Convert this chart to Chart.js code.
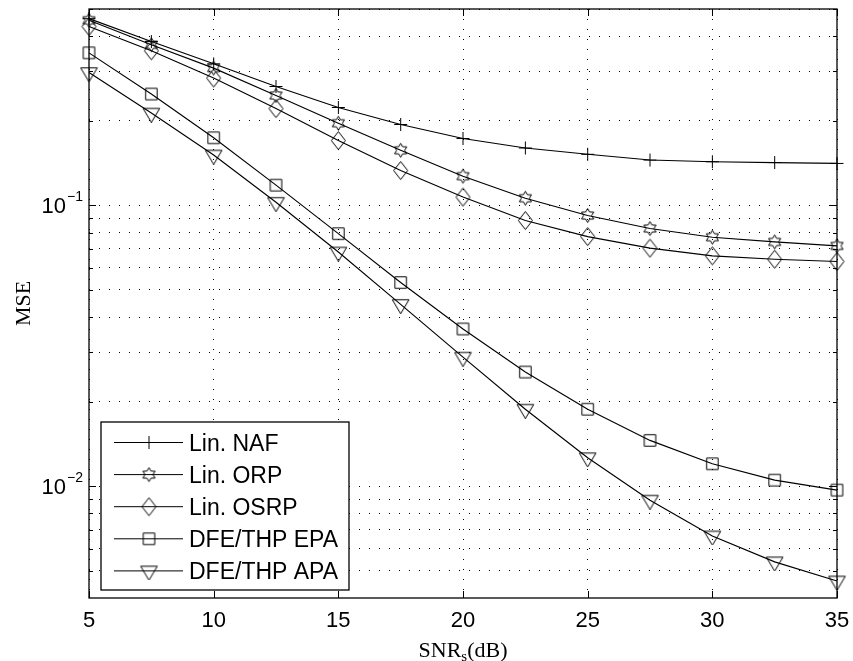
<!DOCTYPE html>
<html>
<head>
<meta charset="utf-8">
<script src="https://cdn.jsdelivr.net/npm/chart.js@4.4.1/dist/chart.umd.min.js"></script>
<style>
  html, body { margin: 0; padding: 0; background: #fff; }
  canvas { display: block; }
</style>
</head>
<body>
<canvas id="mse" width="853" height="661"></canvas>
<script>
// SNR sweep (dB)
const snrDb = [5, 7.5, 10, 12.5, 15, 17.5, 20, 22.5, 25, 27.5, 30, 32.5, 35];

// MSE per scheme
const linNaf   = [0.462, 0.383, 0.319, 0.265, 0.223, 0.194, 0.173, 0.160, 0.152, 0.145, 0.143, 0.142, 0.141];
const linOrp   = [0.456, 0.373, 0.308, 0.246, 0.196, 0.157, 0.127, 0.106, 0.092, 0.0827, 0.0770, 0.0741, 0.0717];
const linOsrp  = [0.433, 0.355, 0.284, 0.221, 0.170, 0.133, 0.107, 0.0883, 0.0774, 0.0704, 0.0661, 0.0643, 0.0631];
const dfeEpa   = [0.349, 0.249, 0.174, 0.118, 0.0793, 0.0531, 0.0363, 0.0255, 0.0188, 0.01456, 0.01202, 0.01051, 0.00969];
const dfeApa   = [0.297, 0.213, 0.151, 0.1025, 0.0682, 0.0444, 0.0288, 0.0188, 0.01263, 0.00892, 0.00665, 0.00538, 0.0046];

const seriesNames = ['Lin. NAF', 'Lin. ORP', 'Lin. OSRP', 'DFE/THP EPA', 'DFE/THP APA'];

// Axis ticks
const xTickValues = [5, 10, 15, 20, 25, 30, 35];
const xTickLabels = ['5', '10', '15', '20', '25', '30', '35'];
const yGridValues = [0.005, 0.006, 0.007, 0.008, 0.009, 0.01, 0.02, 0.03, 0.04, 0.05,
                     0.06, 0.07, 0.08, 0.09, 0.1, 0.2, 0.3, 0.4, 0.5];
const yDecadeValues = [0.01, 0.1];
const yDecadeExponents = ['\u22122', '\u22121'];

const SANS = '"Liberation Sans", Arial, sans-serif';
const SERIF = '"Liberation Serif", "Times New Roman", serif';

// Hollow marker glyphs rendered once to small canvases
function makeMarker(w, h, draw) {
  const c = document.createElement('canvas');
  c.width = w; c.height = h;
  const g = c.getContext('2d');
  g.strokeStyle = '#000';
  g.lineWidth = 1;
  g.beginPath();
  draw(g, w / 2, h / 2);
  g.stroke();
  return c;
}
const plusMarker = makeMarker(15, 15, (g, cx, cy) => {
  g.moveTo(cx, cy - 6.5); g.lineTo(cx, cy + 6.5);
  g.moveTo(cx - 6.5, cy); g.lineTo(cx + 6.5, cy);
});
const hexMarker = makeMarker(17, 17, (g, cx, cy) => {
  const R = 7, r = R / Math.sqrt(3);
  for (let i = 0; i < 12; i++) {
    const ang = -Math.PI / 2 + i * Math.PI / 6;
    const rad = i % 2 === 0 ? R : r;
    const px = cx + rad * Math.cos(ang), py = cy + rad * Math.sin(ang);
    if (i === 0) g.moveTo(px, py); else g.lineTo(px, py);
  }
  g.closePath();
});
const diamondMarker = makeMarker(17, 21, (g, cx, cy) => {
  g.moveTo(cx, cy - 9); g.lineTo(cx + 7, cy); g.lineTo(cx, cy + 9); g.lineTo(cx - 7, cy);
  g.closePath();
});
const squareMarker = makeMarker(15, 15, (g, cx, cy) => {
  g.rect(cx - 5.75, cy - 5.75, 11.5, 11.5);
});
const triMarker = makeMarker(19, 19, (g, cx, cy) => {
  g.moveTo(cx - 8.3, cy - 4.7); g.lineTo(cx + 8.3, cy - 4.7); g.lineTo(cx, cy + 9.3);
  g.closePath();
});

const seriesValues = [linNaf, linOrp, linOsrp, dfeEpa, dfeApa];
const seriesMarkers = [plusMarker, hexMarker, diamondMarker, squareMarker, triMarker];

const datasets = seriesNames.map((name, i) => ({
  label: name,
  data: snrDb.map((s, k) => ({ x: s, y: seriesValues[i][k] })),
  borderColor: '#000',
  borderWidth: 1.15,
  backgroundColor: 'rgba(0,0,0,0)',
  pointStyle: seriesMarkers[i],
  pointRadius: 7,
  pointHoverRadius: 7,
  tension: 0,
  clip: false
}));

// Frame, inside tick marks, tick labels, axis titles and the boxed legend
const decorations = {
  id: 'decorations',
  beforeDatasetsDraw(chart) {
    const { ctx, chartArea: a, scales: { x, y } } = chart;
    ctx.save();
    ctx.strokeStyle = '#000';
    ctx.lineWidth = 1;
    ctx.beginPath();
    xTickValues.forEach(v => {
      const px = Math.round(x.getPixelForValue(v)) + 0.5;
      ctx.moveTo(px, a.bottom); ctx.lineTo(px, a.bottom - 7);
      ctx.moveTo(px, a.top); ctx.lineTo(px, a.top + 7);
    });
    yGridValues.forEach(v => {
      const py = Math.round(y.getPixelForValue(v)) + 0.5;
      const len = yDecadeValues.includes(v) ? 7 : 4;
      ctx.moveTo(a.left, py); ctx.lineTo(a.left + len, py);
      ctx.moveTo(a.right, py); ctx.lineTo(a.right - len, py);
    });
    ctx.stroke();
    ctx.lineWidth = 1.3;
    ctx.strokeRect(a.left, a.top, a.right - a.left, a.bottom - a.top);

    ctx.fillStyle = '#000';
    // x tick labels
    ctx.font = '22px ' + SANS;
    ctx.textAlign = 'center';
    ctx.textBaseline = 'alphabetic';
    xTickValues.forEach((v, i) => {
      ctx.fillText(xTickLabels[i], x.getPixelForValue(v), a.bottom + 29);
    });
    // y decade labels: 10 with superscript exponent
    yDecadeValues.forEach((v, i) => {
      const py = y.getPixelForValue(v);
      ctx.textAlign = 'right';
      ctx.font = '14px ' + SANS;
      const expW = ctx.measureText(yDecadeExponents[i]).width;
      ctx.fillText(yDecadeExponents[i], a.left - 6, py - 4.5);
      ctx.font = '22px ' + SANS;
      ctx.fillText('10', a.left - 7 - expW, py + 8);
    });

    // x axis title: SNR_s(dB)
    ctx.textAlign = 'left';
    ctx.font = '22px ' + SERIF;
    const w1 = ctx.measureText('SNR').width;
    const w3 = ctx.measureText('(dB)').width;
    ctx.font = '15px ' + SERIF;
    const w2 = ctx.measureText('s').width;
    const cx = (a.left + a.right) / 2;
    const base = a.bottom + 59;
    const sx = cx - (w1 + w2 + w3) / 2;
    ctx.font = '22px ' + SERIF;
    ctx.fillText('SNR', sx, base);
    ctx.font = '15px ' + SERIF;
    ctx.fillText('s', sx + w1, base + 4);
    ctx.font = '22px ' + SERIF;
    ctx.fillText('(dB)', sx + w1 + w2, base);

    // y axis title
    ctx.save();
    ctx.translate(30, (a.top + a.bottom) / 2);
    ctx.rotate(-Math.PI / 2);
    ctx.textAlign = 'center';
    ctx.font = '22px ' + SERIF;
    ctx.fillText('MSE', 0, 0);
    ctx.restore();
    ctx.restore();
  },
  afterDatasetsDraw(chart) {
    const { ctx } = chart;
    const box = { left: 101, top: 422, right: 349, bottom: 590 };
    ctx.save();
    ctx.fillStyle = '#fff';
    ctx.fillRect(box.left, box.top, box.right - box.left, box.bottom - box.top);
    ctx.strokeStyle = '#000';
    ctx.lineWidth = 1.3;
    ctx.strokeRect(box.left, box.top, box.right - box.left, box.bottom - box.top);
    ctx.font = '23px ' + SANS;
    ctx.textAlign = 'left';
    ctx.fillStyle = '#000';
    chart.data.datasets.forEach((ds, i) => {
      const ry = 442.5 + i * 32.1;
      ctx.lineWidth = 1;
      ctx.beginPath();
      ctx.moveTo(114, ry); ctx.lineTo(183, ry);
      ctx.stroke();
      const m = ds.pointStyle;
      ctx.drawImage(m, 149 - m.width / 2, ry - m.height / 2);
      ctx.fillText(ds.label, 189, ry + 8.3);
    });
    ctx.restore();
  }
};

new Chart(document.getElementById('mse'), {
  type: 'line',
  data: { datasets },
  options: {
    responsive: false,
    animation: false,
    devicePixelRatio: 1,
    layout: { padding: { left: 89, right: 16, top: 9, bottom: 63 } },
    plugins: { legend: { display: false }, tooltip: { enabled: false } },
    scales: {
      x: {
        type: 'linear',
        min: 5, max: 35,
        afterBuildTicks: s => { s.ticks = xTickValues.map(v => ({ value: v })); },
        afterFit: s => { s.height = 0; },
        ticks: { display: false },
        grid: { color: '#000', lineWidth: 1, drawTicks: false },
        border: { display: false, dash: [1, 9] }
      },
      y: {
        type: 'logarithmic',
        min: 0.004, max: 0.5,
        afterBuildTicks: s => { s.ticks = yGridValues.map(v => ({ value: v })); },
        afterFit: s => { s.width = 0; },
        ticks: { display: false },
        grid: { color: '#000', lineWidth: 1, drawTicks: false },
        border: { display: false, dash: [1, 9] }
      }
    }
  },
  plugins: [decorations]
});
</script>
</body>
</html>
